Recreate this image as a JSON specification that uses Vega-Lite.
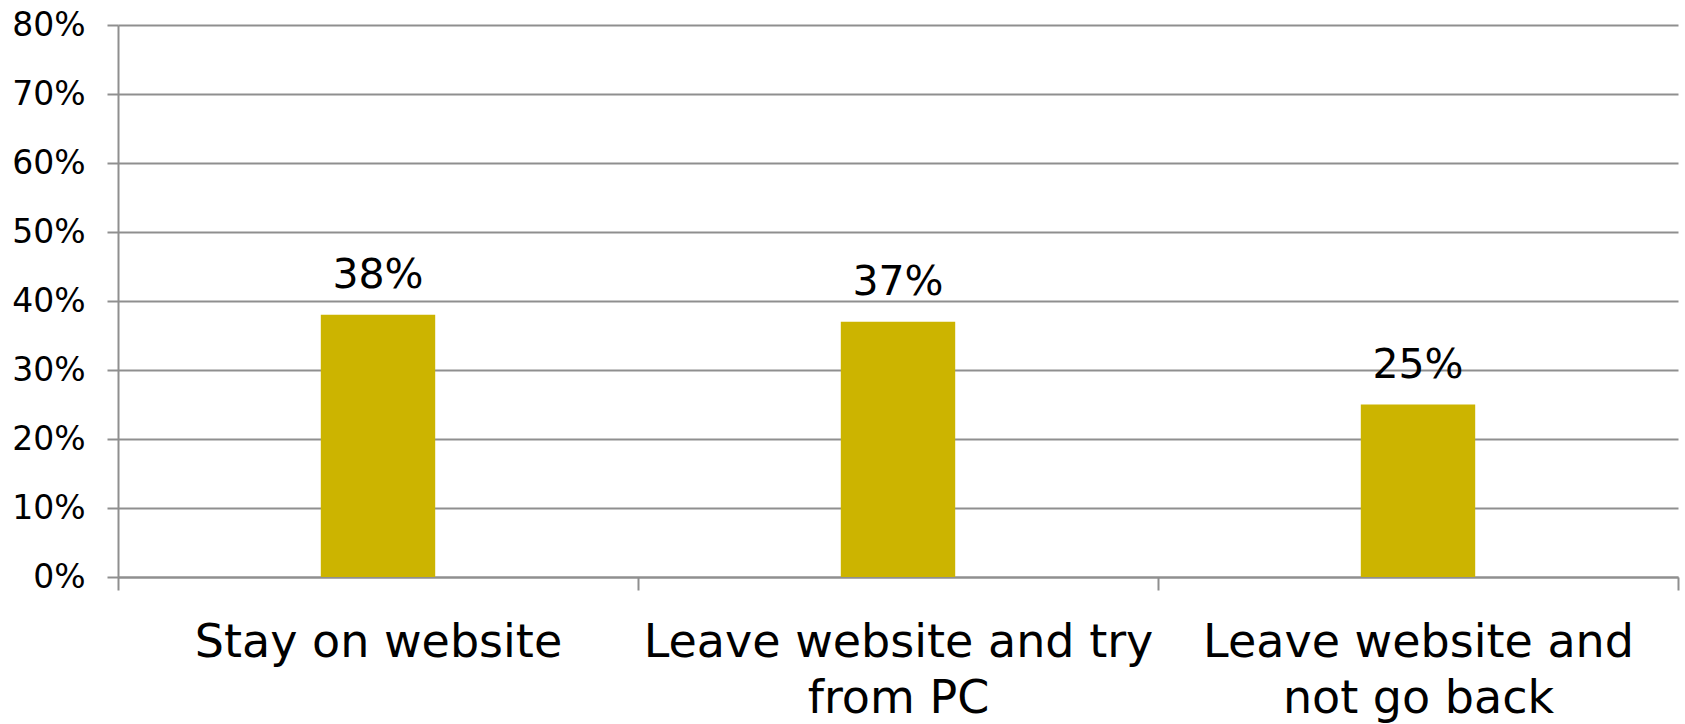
{
  "$schema": "https://vega.github.io/schema/vega-lite/v6.json",
  "autosize": {"type": "none"},
  "width": 1560,
  "height": 552,
  "padding": {"left": 118, "top": 25, "right": 7, "bottom": 147},
  "background": "white",
  "data": {"values": [
    {"choice": "Stay on website|", "share": 0.38},
    {"choice": "Leave website and try|from PC", "share": 0.37},
    {"choice": "Leave website and|not go back", "share": 0.25}
  ]},
  "encoding": {
    "x": {"field": "choice", "type": "nominal", "sort": null,
      "scale": {"paddingInner": 0, "paddingOuter": 0},
      "axis": {"title": null, "labelAngle": 0, "labelExpr": "isValid(datum.value) ? split(datum.value, '|') : ''",
        "tickBand": "extent", "tickSize": 13, "tickWidth": 2, "tickColor": "#8f8f8f",
        "domainColor": "#8f8f8f", "domainWidth": 2,
        "labelFont": "DejaVu Sans", "labelFontSize": 46, "labelColor": "#000000",
        "labelPadding": 30, "labelLineHeight": 56, "labelLimit": 600, "grid": false}},
    "y": {"field": "share", "type": "quantitative",
      "scale": {"domain": [0, 0.8]},
      "axis": {"title": null, "format": ".0%", "values": [0,0.1,0.2,0.3,0.4,0.5,0.6,0.7,0.8],
        "grid": true, "gridColor": "#8f8f8f", "gridWidth": 2,
        "domainColor": "#8f8f8f", "domainWidth": 2,
        "tickColor": "#8f8f8f", "tickWidth": 2, "tickSize": 11,
        "labelFont": "DejaVu Sans", "labelFontSize": 33, "labelColor": "#000000", "labelPadding": 22}}
  },
  "layer": [
    {"mark": {"type": "bar", "color": "#CCB400", "width": {"band": 0.22}}},
    {"mark": {"type": "text", "font": "DejaVu Sans", "fontSize": 41, "color": "#000000", "baseline": "alphabetic", "dy": -27},
     "encoding": {"text": {"field": "share", "type": "quantitative", "format": ".0%"}}}
  ],
  "config": {"view": {"stroke": null}}
}
